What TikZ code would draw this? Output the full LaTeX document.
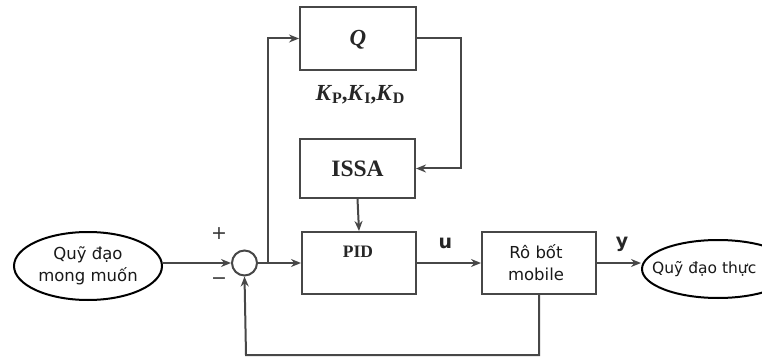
\documentclass[tikz,border=0pt]{standalone}
\usepackage{fontspec}
\setmainfont{Liberation Serif}
\newfontfamily\vsans{DejaVu Sans}
\usetikzlibrary{shapes.geometric,arrows.meta,calc}
\begin{document}
\begin{tikzpicture}[x=1pt,y=-1pt,
  line/.style={draw=black!72,line width=2pt},
  arr/.style={line,-{Stealth[length=10pt,width=8pt]}},
  blk/.style={draw=black!72,line width=2pt,rectangle,inner sep=0pt},
  oval/.style={draw=black,line width=2pt,ellipse,inner sep=0pt},
  sanslab/.style={font=\vsans\fontsize{16.5}{22}\selectfont,text=black!90,align=center}
]
\useasboundingbox (0,0) rectangle (762,358);
% blocks
\node[blk,minimum width=116pt,minimum height=63pt] (Q) at (358,38.5) {};
\node[font=\bfseries\itshape\fontsize{23}{26}\selectfont,text=black!85] (Qt) at (358,40) {Q};
\node[font=\bfseries\fontsize{23}{26}\selectfont,text=black!85] (K) at (360,95) {\textit{K}\raisebox{-0.3ex}{\fontsize{16}{17}\selectfont P},\textit{K}\raisebox{-0.3ex}{\fontsize{16}{17}\selectfont I},\textit{K}\raisebox{-0.3ex}{\fontsize{16}{17}\selectfont D}};
\node[blk,minimum width=115pt,minimum height=59pt,font=\bfseries\fontsize{23.5}{26}\selectfont,text=black!85] (ISSA) at (357.5,168.5) {ISSA};
\node[blk,minimum width=114pt,minimum height=62pt] (PID) at (359,263) {};
\node[font=\bfseries\fontsize{17.5}{20}\selectfont,text=black!85] (PIDt) at (358,252) {PID};
\node[blk,minimum width=114pt,minimum height=62pt] (R) at (539,263) {};
\node[sanslab] (Rt) at (536,263) {Rô bốt\\mobile};
\node[draw=black!72,line width=2pt,circle,minimum size=25pt,inner sep=0pt] (S) at (244.5,263) {};
\node[oval,minimum width=148pt,minimum height=68pt] (In) at (88,266) {};
\node[sanslab] (Int) at (88,266) {Quỹ đạo\\mong muốn};
\node[oval,minimum width=152pt,minimum height=58pt] (Out) at (718,269) {};
\node[sanslab,font=\vsans\fontsize{15.5}{20}\selectfont,anchor=west,inner sep=0pt] (Outt) at (652,269) {Quỹ đạo thực};
% labels
\node[font=\vsans\fontsize{19}{20}\selectfont,text=black!80] (plus) at (219,234) {+};
\node[font=\vsans\fontsize{19}{20}\selectfont,text=black!80] (minus) at (219,281) {\textminus};
\node[font=\vsans\bfseries\fontsize{19}{20}\selectfont,text=black!85] (u) at (445.5,243) {u};
\node[font=\vsans\bfseries\fontsize{19}{20}\selectfont,text=black!85] (y) at (622,244) {y};
% connectors
\coordinate (br) at (268,263);
\coordinate (qr) at (461,38.5);
\coordinate (fb) at (539,355);
\coordinate (fl) at (246,355);
\draw[arr] (In.east |- S.west) -- (S.west);
\draw[arr] (S.east) -- (PID.west);
\draw[arr] (br) |- (Q.west);
\draw[arr] (Q.east) -- (qr) |- (ISSA.east);
\draw[arr] (ISSA.south) -- (PID.north);
\draw[arr] (PID.east) -- (R.west);
\draw[arr] (R.east) -- (Out.west |- R.east);
\draw[arr] (R.south) -- (fb) -- (fl) -- (S.south);
\end{tikzpicture}
\end{document}
